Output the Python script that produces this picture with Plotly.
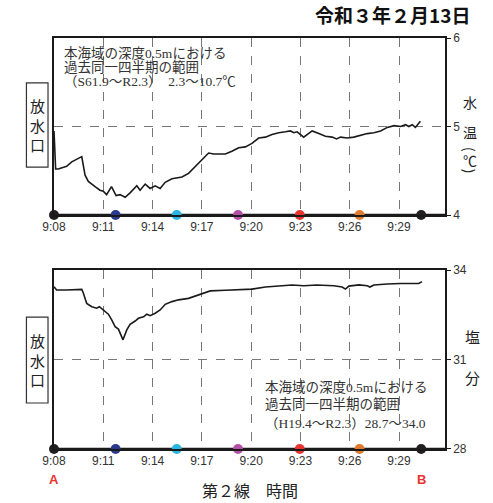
import plotly.graph_objects as go

# ---- data ----
tick_minutes = [0, 3, 6, 9, 12, 15, 18, 21]
tick_labels = ["9:08", "9:11", "9:14", "9:17", "9:20", "9:23", "9:26", "9:29"]

temp_t = [0.0, 0.1, 0.26, 0.77, 1.08, 1.38, 1.69, 1.89, 2.09, 2.5, 2.8, 3.0, 3.2, 3.5, 3.78,
          4.02, 4.33, 4.63, 5.04, 5.24, 5.55, 5.85, 6.16, 6.46, 6.77, 7.18, 7.58, 7.79, 8.19,
          8.6, 9.0, 9.41, 9.72, 10.43, 10.83, 11.24, 11.65, 12.05, 12.46, 12.87, 13.27, 13.68,
          14.09, 14.39, 14.6, 14.8, 15.2, 15.71, 16.12, 16.52, 16.93, 17.2, 17.44, 17.85,
          18.25, 18.66, 19.07, 19.47, 19.88, 20.29, 20.7, 21.1, 21.4, 21.6, 21.8, 22.0, 22.15, 22.3]
temp_v = [4.95, 4.52, 4.52, 4.55, 4.60, 4.63, 4.66, 4.45, 4.38, 4.32, 4.28, 4.27, 4.23, 4.32, 4.22,
          4.23, 4.20, 4.25, 4.33, 4.28, 4.35, 4.30, 4.33, 4.30, 4.37, 4.41, 4.42, 4.43, 4.47,
          4.55, 4.62, 4.70, 4.69, 4.69, 4.72, 4.76, 4.77, 4.81, 4.87, 4.88, 4.91, 4.93,
          4.94, 4.95, 4.93, 4.94, 4.88, 4.95, 4.92, 4.89, 4.88, 4.86, 4.88, 4.87,
          4.88, 4.90, 4.92, 4.93, 4.95, 4.99, 5.01, 5.00, 5.02, 5.00, 5.02, 4.99, 5.02, 5.06]

sal_t = [0.0, 0.16, 0.77, 1.69, 1.79, 1.99, 2.3, 2.6, 2.76, 3.0, 3.31, 3.52, 3.72, 3.92, 4.2,
         4.43, 4.63, 4.94, 5.14, 5.45, 5.65, 5.85, 6.16, 6.46, 6.77, 7.18, 7.58, 8.19, 8.8,
         9.51, 10.43, 11.44, 12.05, 12.87, 13.68, 14.49, 15.2, 16.0, 17.03, 17.54, 17.74,
         17.95, 18.56, 19.07, 19.23, 19.47, 20.29, 21.1, 22.2, 22.4]
sal_v = [33.44, 33.33, 33.33, 33.35, 33.22, 32.88, 32.77, 32.72, 32.77, 32.66, 32.52, 32.32,
         32.10, 32.02, 31.66, 31.99, 32.18, 32.29, 32.38, 32.43, 32.52, 32.47, 32.55, 32.66,
         32.85, 32.94, 33.0, 33.05, 33.16, 33.30, 33.32, 33.36, 33.36, 33.43, 33.47, 33.50,
         33.47, 33.50, 33.47, 33.43, 33.36, 33.46, 33.50, 33.47, 33.43, 33.50, 33.53, 33.55,
         33.55, 33.61]

station_t = [0.0, 3.75, 7.47, 11.2, 14.96, 18.6, 22.35]
station_colors = ["#231f20", "#2b3a8f", "#29b5e0", "#b44fa8", "#e8342f", "#e07a2e", "#231f20"]

temp_ticks = [4, 5, 6]
sal_ticks = [28, 31, 34]

temp_note = ["本海域の深度0.5mにおける", "過去同一四半期の範囲", "（S61.9～R2.3）　2.3～10.7℃"]
sal_note = ["本海域の深度0.5mにおける", "過去同一四半期の範囲", "（H19.4～R2.3）28.7～34.0"]

JP = "Noto Sans CJK JP"
SER = "Liberation Serif, Noto Sans CJK JP"
SANS = "Liberation Sans, Arial"

fig = go.Figure()
fig.add_trace(go.Scatter(x=temp_t, y=temp_v, mode="lines", line=dict(color="#1a1a1a", width=1.6),
                         xaxis="x", yaxis="y", showlegend=False, hoverinfo="skip"))
fig.add_trace(go.Scatter(x=sal_t, y=sal_v, mode="lines", line=dict(color="#1a1a1a", width=1.6),
                         xaxis="x2", yaxis="y2", showlegend=False, hoverinfo="skip"))
fig.add_trace(go.Scatter(x=station_t, y=[temp_ticks[0]] * len(station_t), mode="markers",
                         marker=dict(color=station_colors, size=10), cliponaxis=False,
                         xaxis="x", yaxis="y", showlegend=False, hoverinfo="skip"))
fig.add_trace(go.Scatter(x=station_t, y=[sal_ticks[0]] * len(station_t), mode="markers",
                         marker=dict(color=station_colors, size=10), cliponaxis=False,
                         xaxis="x2", yaxis="y2", showlegend=False, hoverinfo="skip"))

xcommon = dict(range=[0, 23.8], tickmode="array", tickvals=tick_minutes, ticktext=tick_labels,
               showgrid=True, gridcolor="#777777", griddash="dash", gridwidth=1,
               showline=True, linecolor="#1a1a1a", linewidth=1.5, mirror=True,
               ticks="", zeroline=False, tickfont=dict(family=SANS, size=12, color="#333333"))
ycommon = dict(side="right", tickmode="array", showgrid=True, gridcolor="#777777",
               griddash="dash", gridwidth=1, showline=True, linecolor="#1a1a1a",
               linewidth=1.5, mirror=True, ticks="outside", ticklen=4, tickcolor="#1a1a1a",
               zeroline=False, tickfont=dict(family=SANS, size=12, color="#333333"))

fig.update_layout(
    width=493, height=503,
    margin=dict(l=54, r=48, t=38, b=54, autoexpand=False),
    paper_bgcolor="white", plot_bgcolor="white",
    xaxis=dict(**xcommon, anchor="y", domain=[0, 1]),
    yaxis=dict(**ycommon, anchor="x", domain=[0.5693, 1], range=[4, 6], tickvals=temp_ticks),
    xaxis2=dict(**xcommon, anchor="y2", domain=[0, 1]),
    yaxis2=dict(**ycommon, anchor="x2", domain=[0, 0.4355], range=[28, 34], tickvals=sal_ticks),
)

# thick bottom axes
for xr, yr in [("x domain", "y domain"), ("x2 domain", "y2 domain")]:
    fig.add_shape(type="line", xref=xr, yref=yr, x0=0, x1=1, y0=0, y1=0,
                  line=dict(color="#1a1a1a", width=2.5), layer="below")
# 放水口 frames
for yr, y0, y1 in [("y domain", 0.271, 0.746), ("y2 domain", 0.257, 0.737)]:
    fig.add_shape(type="rect", xref="paper", yref=yr, x0=-0.0705, x1=-0.0153, y0=y0, y1=y1,
                  line=dict(color="#333333", width=1.2), fillcolor="white")

ann = []
ann.append(dict(text="令和３年２月13日", xref="paper", yref="paper", x=1.068, y=1.056,
                xanchor="right", yanchor="middle", showarrow=False,
                font=dict(family=JP, size=19, color="#111111", weight="bold")))
for line, yv in zip(temp_note, [0.91, 0.833, 0.752]):
    ann.append(dict(text=line, xref="x domain", yref="y domain", x=0.02, y=yv,
                    xanchor="left", yanchor="middle", showarrow=False,
                    font=dict(family=SER, size=13.5, color="#333333")))
for line, yv in zip(sal_note, [0.341, 0.246, 0.145]):
    ann.append(dict(text=line, xref="x2 domain", yref="y2 domain", x=0.534, y=yv,
                    xanchor="left", yanchor="middle", showarrow=False,
                    font=dict(family=SER, size=13.5, color="#333333")))
# 放水口 labels
for yr, yc in [("y domain", 0.508), ("y2 domain", 0.497)]:
    ann.append(dict(text="放<br>水<br>口", xref="paper", yref=yr, x=-0.043, y=yc,
                    xanchor="center", yanchor="middle", showarrow=False,
                    font=dict(family=JP, size=15, color="#222222")))
# right axis titles
for txt, yv, ang in [("水", 0.638, 0), ("温", 0.469, 0), ("(", 0.373, 90), ("℃", 0.311, 0),
                     (")", 0.25, 90)]:
    ann.append(dict(text=txt, xref="paper", yref="y domain", x=1.064, y=yv, xanchor="center",
                    yanchor="middle", showarrow=False, textangle=ang,
                    font=dict(family=JP, size=14, color="#222222")))
for txt, yv in [("塩", 0.626), ("分", 0.397)]:
    ann.append(dict(text=txt, xref="paper", yref="y2 domain", x=1.07, y=yv, xanchor="center",
                    yanchor="middle", showarrow=False,
                    font=dict(family=JP, size=15, color="#222222")))
# A / B
ann.append(dict(text="A", xref="x2", yref="paper", x=station_t[0], y=-0.075, xanchor="center",
                yanchor="middle", showarrow=False,
                font=dict(family=SANS, size=13, color="#e8342f", weight="bold")))
ann.append(dict(text="B", xref="x2", yref="paper", x=station_t[-1], y=-0.075, xanchor="center",
                yanchor="middle", showarrow=False,
                font=dict(family=SANS, size=13, color="#e8342f", weight="bold")))
ann.append(dict(text="第２線　時間", xref="paper", yref="paper", x=0.5, y=-0.1,
                xanchor="center", yanchor="middle", showarrow=False,
                font=dict(family=JP, size=16, color="#222222")))
fig.update_layout(annotations=ann)

fig.write_html("out.html", config={"displayModeBar": False},
               post_script="document.body.style.margin='0';")
